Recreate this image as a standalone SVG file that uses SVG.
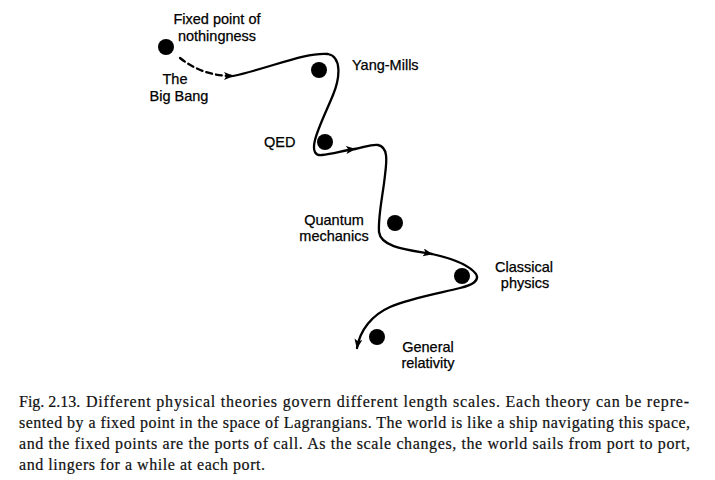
<svg xmlns="http://www.w3.org/2000/svg" width="715" height="480" viewBox="0 0 715 480">
<style>
.lbl{font-family:"Liberation Sans",Arial,sans-serif;font-size:14.5px;fill:#000;stroke:#000;stroke-width:0.25}
.cap{font-family:"Liberation Serif","Times New Roman",serif;font-size:16px;fill:#111;stroke:#111;stroke-width:0.2}
.dot{fill:#000}
.path{fill:none;stroke:#000;stroke-width:2.3;stroke-linecap:round}
</style>
<defs>
<marker id="ah" markerUnits="userSpaceOnUse" markerWidth="12" markerHeight="10" refX="9" refY="4" orient="auto">
<path d="M0,0 L10,4 L0,8 L2.5,4 z" fill="#000"/>
</marker>
</defs>
<rect width="715" height="480" fill="#fff"/>
<g id="connectors">
<path class="path" stroke-dasharray="6,4" d="M180,58 C195,70 212,76 233,76" marker-end="url(#ah)"/>
<path class="path" d="M233,76 C270,68 305,52 328,54 C342,57 340,78 333,95 C326,112 318,128 315,140 C312,152 316,156 322,155 C333,154 345,150 355,149" marker-end="url(#ah)"/>
<path class="path" d="M355,149 C365,147 372,144 378,145 C388,147 387,160 385,175 C383,195 378,215 379,232 C381,248 410,250 432,254" marker-end="url(#ah)"/>
<path class="path" d="M432,254 C450,258 468,264 476,274 C480,281 472,285 460,288 C440,293 410,298 390,307 C372,315 360,330 357,348" marker-end="url(#ah)"/>
</g>
<g id="fixed-point-nothingness">
<circle class="dot" cx="166" cy="47" r="8"/>
<text class="lbl" x="217" y="24" text-anchor="middle">Fixed point of</text>
<text class="lbl" x="217" y="41" text-anchor="middle">nothingness</text>
</g>
<g id="big-bang">
<text class="lbl" x="175" y="84" text-anchor="middle">The</text>
<text class="lbl" x="179" y="101" text-anchor="middle">Big Bang</text>
</g>
<g id="yang-mills">
<circle class="dot" cx="319" cy="70" r="8"/>
<text class="lbl" x="352" y="70">Yang-Mills</text>
</g>
<g id="qed">
<circle class="dot" cx="325" cy="142" r="8"/>
<text class="lbl" x="264" y="147">QED</text>
</g>
<g id="quantum-mechanics">
<circle class="dot" cx="395" cy="223" r="8"/>
<text class="lbl" x="334" y="225" text-anchor="middle">Quantum</text>
<text class="lbl" x="334" y="241" text-anchor="middle">mechanics</text>
</g>
<g id="classical-physics">
<circle class="dot" cx="462" cy="276" r="8"/>
<text class="lbl" x="524" y="272" text-anchor="middle">Classical</text>
<text class="lbl" x="525" y="288" text-anchor="middle">physics</text>
</g>
<g id="general-relativity">
<circle class="dot" cx="377" cy="337" r="8"/>
<text class="lbl" x="428" y="352" text-anchor="middle">General</text>
<text class="lbl" x="428" y="368" text-anchor="middle">relativity</text>
</g>
<g id="caption">
<text class="cap" x="19" y="407">Fig. 2.13.</text>
<text class="cap" x="86" y="407" textLength="603" lengthAdjust="spacing">Different physical theories govern different length scales. Each theory can be repre-</text>
<text class="cap" x="19" y="428" textLength="671" lengthAdjust="spacing">sented by a fixed point in the space of Lagrangians. The world is like a ship navigating this space,</text>
<text class="cap" x="19" y="449" textLength="671" lengthAdjust="spacing">and the fixed points are the ports of call. As the scale changes, the world sails from port to port,</text>
<text class="cap" x="19" y="470" textLength="246" lengthAdjust="spacing">and lingers for a while at each port.</text>
</g>
</svg>
